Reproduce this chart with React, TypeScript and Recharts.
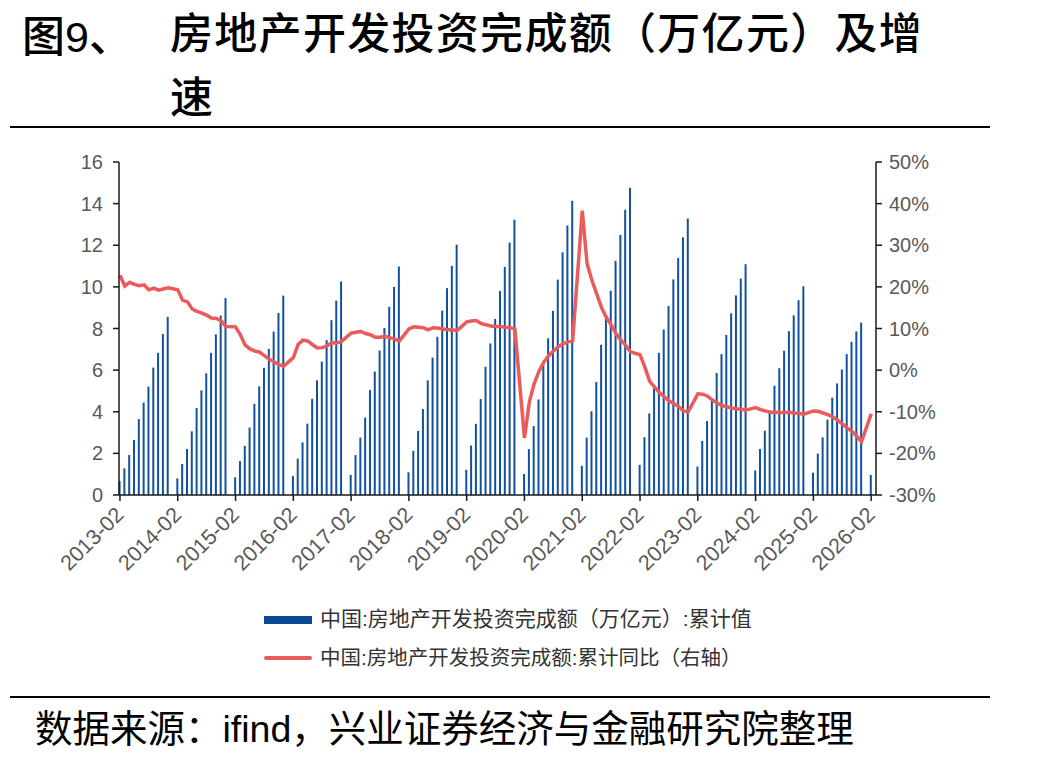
import { Bar, ComposedChart, Line, XAxis, YAxis } from "recharts";

// 房地产开发投资完成额：累计值（万亿元，柱）与累计同比（%，线，右轴）
// 每年 2 月起报（1-2 月合并），1 月无数据，横轴按月编号，1 月留空位。

const FIRST_YEAR = 2013;
const YEARS = [2013, 2014, 2015, 2016, 2017, 2018, 2019, 2020, 2021, 2022, 2023, 2024, 2025, 2026];
const MONTHS = [2, 3, 4, 5, 6, 7, 8, 9, 10, 11, 12];

// 累计值，万亿元（每行一年，2 月 ~ 12 月）
const investment = [
  0.67, 1.28, 1.92, 2.64, 3.65, 4.44, 5.21, 6.12, 6.83, 7.74, 8.56,
  0.80, 1.49, 2.21, 3.06, 4.18, 5.03, 5.85, 6.83, 7.72, 8.62, 9.46,
  0.85, 1.63, 2.36, 3.24, 4.38, 5.22, 6.11, 7.02, 7.85, 8.75, 9.58,
  0.91, 1.75, 2.53, 3.43, 4.62, 5.51, 6.41, 7.44, 8.40, 9.34, 10.26,
  0.96, 1.92, 2.76, 3.72, 5.05, 5.93, 6.94, 8.03, 9.04, 10.0, 10.98,
  1.09, 2.12, 3.08, 4.13, 5.51, 6.60, 7.60, 8.86, 9.94, 11.01, 12.03,
  1.21, 2.38, 3.42, 4.61, 6.16, 7.28, 8.46, 9.80, 10.96, 12.13, 13.22,
  1.01, 2.20, 3.31, 4.59, 6.28, 7.53, 8.85, 10.35, 11.66, 12.95, 14.14,
  1.40, 2.76, 4.02, 5.43, 7.22, 8.49, 9.81, 11.25, 12.49, 13.71, 14.76,
  1.45, 2.78, 3.92, 5.21, 6.83, 7.95, 9.08, 10.36, 11.39, 12.39, 13.29,
  1.37, 2.60, 3.55, 4.57, 5.86, 6.77, 7.69, 8.73, 9.59, 10.40, 11.09,
  1.18, 2.21, 3.09, 4.06, 5.25, 6.09, 6.93, 7.87, 8.63, 9.36, 10.03,
  1.07, 1.99, 2.77, 3.62, 4.67, 5.36, 6.03, 6.77, 7.36, 7.86, 8.28,
  0.96,
];

// 累计同比，%
const growth = [
  22.8, 20.2, 21.1, 20.6, 20.3, 20.5, 19.3, 19.7, 19.2, 19.5, 19.8,
  19.3, 16.8, 16.4, 14.7, 14.1, 13.7, 13.2, 12.5, 12.4, 11.9, 10.5,
  10.4, 8.5, 6.0, 5.1, 4.6, 4.3, 3.5, 2.6, 2.0, 1.3, 1.0,
  3.0, 6.2, 7.2, 7.0, 6.1, 5.3, 5.4, 5.8, 6.6, 6.5, 6.9,
  8.9, 9.1, 9.3, 8.8, 8.5, 7.9, 7.9, 8.1, 7.8, 7.5, 7.0,
  9.9, 10.4, 10.3, 10.2, 9.7, 10.2, 10.1, 9.9, 9.7, 9.7, 9.5,
  11.6, 11.8, 11.9, 11.2, 10.9, 10.6, 10.5, 10.5, 10.3, 10.2, 9.9,
  -16.3, -7.7, -3.3, -0.3, 1.9, 3.4, 4.6, 5.6, 6.3, 6.8, 7.0,
  38.3, 25.6, 21.6, 18.3, 15.0, 12.7, 10.9, 8.8, 7.2, 6.0, 4.4,
  3.7, 0.7, -2.7, -4.0, -5.4, -6.4, -7.4, -8.0, -8.8, -9.8, -10.0,
  -5.7, -5.8, -6.2, -7.2, -7.9, -8.5, -8.8, -9.1, -9.3, -9.4, -9.6,
  -9.0, -9.5, -9.8, -10.1, -10.1, -10.2, -10.2, -10.1, -10.3, -10.4, -10.6,
  -9.8, -9.9, -10.3, -10.7, -11.2, -12.0, -12.9, -13.9, -14.7, -15.9, -17.2,
  -10.5,
];

const LEFT_TICKS = [0, 2, 4, 6, 8, 10, 12, 14, 16];
const RIGHT_TICKS = [-30, -20, -10, 0, 10, 20, 30, 40, 50];
const X_TICKS = YEARS.map((y) => (y - FIRST_YEAR) * 12);

const pad = (m: number) => (m < 10 ? `0${m}` : `${m}`);

// idx = 距 2013-02 的月数
const rows: { idx: number; label: string; invest: number; growth: number }[] = [];
YEARS.forEach((y) => {
  MONTHS.forEach((m) => {
    const k = rows.length;
    if (k >= investment.length) return;
    rows.push({
      idx: (y - FIRST_YEAR) * 12 + (m - 2),
      label: `${y}-${pad(m)}`,
      invest: investment[k],
      growth: growth[k],
    });
  });
});

const LATIN = '"Liberation Sans", Arial, "Noto Sans CJK SC", sans-serif';
const CJK = '"Liberation Sans", "Noto Sans CJK SC", sans-serif';
const BLUE = "#12519d";
const RED = "#ec5b5b";
const AXIS = "#1a1a1a";
const TICK_TEXT = "#595959";

function SlantTick(props: any) {
  const { x, y, payload } = props;
  const year = FIRST_YEAR + Math.round(payload.value / 12);
  const tx = x + 5;
  const ty = y + 13;
  return (
    <text
      x={tx}
      y={ty}
      transform={`rotate(-45 ${tx} ${ty})`}
      textAnchor="end"
      fill={TICK_TEXT}
      fontSize={21.5}
      fontFamily={LATIN}
    >
      {`${year}-02`}
    </text>
  );
}

export default function App() {
  return (
    <div
      style={{
        position: "absolute",
        left: 0,
        top: 0,
        width: 1037,
        height: 763,
        background: "#fff",
        fontFamily: CJK,
        color: "#000",
      }}
    >
      <div style={{ position: "absolute", left: 22, top: 2, fontSize: 43, fontWeight: 500, whiteSpace: "nowrap" }}>
        图9、
      </div>
      <div
        style={{
          position: "absolute",
          left: 170,
          top: 2,
          fontSize: 43,
          fontWeight: 500,
          lineHeight: "64px",
          letterSpacing: 1.3,
          width: 800,
        }}
      >
        房地产开发投资完成额（万亿元）及增
        <br />速
      </div>
      <div style={{ position: "absolute", left: 10, top: 126, width: 980, height: 2, background: "#000" }} />

      <ComposedChart
        width={1037}
        height={763}
        data={rows}
        margin={{ top: 162, right: 0, bottom: 0, left: 0 }}
        style={{ position: "absolute", left: 0, top: 0 }}
      >
        <XAxis
          dataKey="idx"
          type="number"
          domain={[-0.2, 157]}
          ticks={X_TICKS}
          interval={0}
          height={268}
          tickSize={6}
          tick={<SlantTick />}
          stroke={AXIS}
          strokeWidth={1.5}
          allowDecimals={false}
        />
        <YAxis
          yAxisId="left"
          orientation="left"
          width={119}
          domain={[0, 16]}
          ticks={LEFT_TICKS}
          interval={0}
          tickSize={6}
          tickMargin={10}
          stroke={AXIS}
          strokeWidth={1.5}
          tick={{ fill: TICK_TEXT, fontSize: 20, fontFamily: LATIN }}
        />
        <YAxis
          yAxisId="right"
          orientation="right"
          width={161}
          domain={[-30, 50]}
          ticks={RIGHT_TICKS}
          interval={0}
          tickSize={6}
          tickMargin={7}
          stroke={AXIS}
          strokeWidth={1.5}
          tickFormatter={(v: number) => `${v}%`}
          tick={{ fill: TICK_TEXT, fontSize: 20, fontFamily: LATIN }}
        />
        <Bar yAxisId="left" dataKey="invest" fill={BLUE} barSize={2} isAnimationActive={false} />
        <Line
          yAxisId="right"
          dataKey="growth"
          type="linear"
          stroke={RED}
          strokeWidth={3.5}
          dot={false}
          activeDot={false}
          isAnimationActive={false}
        />
      </ComposedChart>

      {/* 图例 */}
      <div style={{ position: "absolute", left: 264, top: 616, width: 48, height: 8, background: "#0b4a94" }} />
      <div
        style={{ position: "absolute", left: 320, top: 606, fontSize: 21, color: "#333", whiteSpace: "nowrap", lineHeight: "26px" }}
      >
        中国:房地产开发投资完成额（万亿元）:累计值
      </div>
      <div style={{ position: "absolute", left: 264, top: 656, width: 48, height: 4, borderRadius: 2, background: RED }} />
      <div
        style={{ position: "absolute", left: 320, top: 645, fontSize: 20.5, color: "#333", whiteSpace: "nowrap", lineHeight: "26px" }}
      >
        中国:房地产开发投资完成额:累计同比（右轴）
      </div>

      <div style={{ position: "absolute", left: 10, top: 696, width: 980, height: 2, background: "#000" }} />
      <div
        style={{ position: "absolute", left: 35, top: 707, fontSize: 37.5, whiteSpace: "nowrap", lineHeight: "44px" }}
      >
        数据来源：ifind，兴业证券经济与金融研究院整理
      </div>
    </div>
  );
}
